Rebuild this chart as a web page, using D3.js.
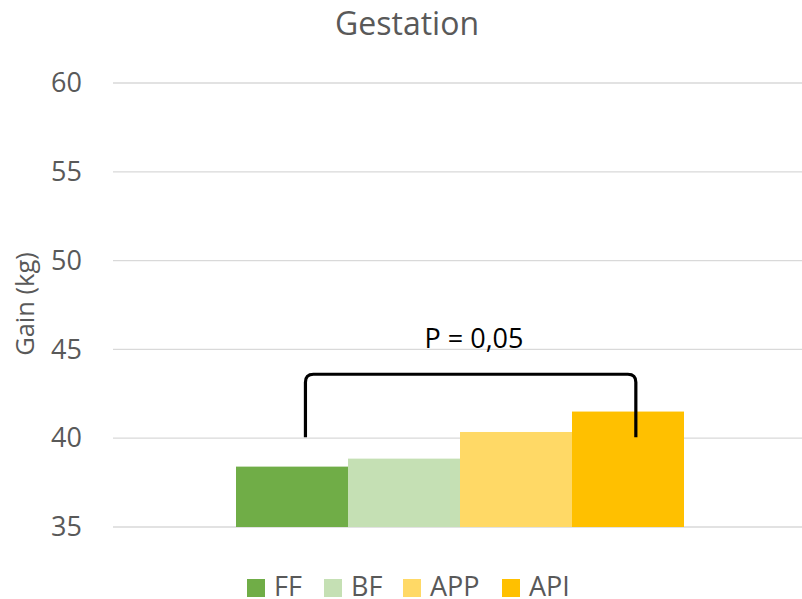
<!DOCTYPE html>
<html>
<head>
<meta charset="utf-8">
<script src="https://cdn.jsdelivr.net/npm/d3@7"></script>
<style>
  body { margin: 0; background: #fff; }
  svg text { font-family: "Open Sans", Lato, sans-serif; }
</style>
</head>
<body>
<svg id="chart" width="802" height="599"></svg>
<script>
// Chart data
const categories = ['FF', 'BF', 'APP', 'API'];
const values = [38.4, 38.85, 40.35, 41.5];
const colors = ['#70ad47', '#c5e0b4', '#ffd966', '#ffc000'];
const yTicks = [35, 40, 45, 50, 55, 60];
const title = 'Gestation';
const yLabel = 'Gain (kg)';
const pLabel = 'P = 0,05';

const svg = d3.select('#chart');
const margin = { top: 83, right: 0, bottom: 72, left: 113 };
const width = 802 - margin.left - margin.right;
const height = 599 - margin.top - margin.bottom;
const g = svg.append('g').attr('transform', `translate(${margin.left},${margin.top})`);

const y = d3.scaleLinear().domain([35, 60]).range([height, 0]);

// bars occupy the middle of the plot, with no gaps between them
const x = d3.scaleBand()
    .domain(categories)
    .range([123, 571])
    .padding(0);

// gridlines
g.append('g')
    .selectAll('line')
    .data(yTicks)
    .join('line')
    .attr('x1', 0)
    .attr('x2', width)
    .attr('y1', d => y(d))
    .attr('y2', d => y(d))
    .attr('stroke', '#d9d9d9')
    .attr('stroke-width', 1.3);

// y axis labels
const yAxis = g.append('g')
    .call(d3.axisLeft(y).tickValues(yTicks).tickSize(0).tickPadding(31));
yAxis.select('.domain').remove();
yAxis.selectAll('text')
    .attr('fill', '#595959')
    .style('font-size', '27px');

// bars
g.selectAll('.bar')
    .data(categories)
    .join('rect')
    .attr('class', 'bar')
    .attr('x', d => x(d))
    .attr('width', x.bandwidth())
    .attr('y', (d, i) => y(values[i]))
    .attr('height', (d, i) => y(35) - y(values[i]))
    .attr('fill', (d, i) => colors[i]);

// significance bracket
const bx1 = x('FF') + x.bandwidth() * 0.62;
const bx2 = x('API') + x.bandwidth() * 0.57;
const by1 = y(40.05);
const by2 = y(43.6);
const r = 8;
const bracket = d3.path();
bracket.moveTo(bx1, by1);
bracket.lineTo(bx1, by2 + r);
bracket.quadraticCurveTo(bx1, by2, bx1 + r, by2);
bracket.lineTo(bx2 - r, by2);
bracket.quadraticCurveTo(bx2, by2, bx2, by2 + r);
bracket.lineTo(bx2, by1);
g.append('path')
    .attr('d', bracket.toString())
    .attr('fill', 'none')
    .attr('stroke', '#000')
    .attr('stroke-width', 3.2);

g.append('text')
    .attr('x', 474 - margin.left)
    .attr('y', y(45.1))
    .attr('text-anchor', 'middle')
    .attr('fill', '#000')
    .style('font-size', '27px')
    .text(pLabel);

// title
svg.append('text')
    .attr('x', 407)
    .attr('y', 35)
    .attr('text-anchor', 'middle')
    .attr('fill', '#595959')
    .style('font-size', '32px')
    .text(title);

// y axis title
svg.append('text')
    .attr('transform', 'translate(34,304) rotate(-90)')
    .attr('text-anchor', 'middle')
    .attr('fill', '#595959')
    .style('font-size', '25.5px')
    .text(yLabel);

// legend
const legendX = [247, 324, 403, 502];
const legend = svg.append('g')
    .selectAll('g')
    .data(categories)
    .join('g')
    .attr('transform', (d, i) => `translate(${legendX[i]},579)`);
legend.append('rect')
    .attr('width', 18)
    .attr('height', 18)
    .attr('fill', (d, i) => colors[i]);
legend.append('text')
    .attr('x', 27)
    .attr('y', 17)
    .attr('fill', '#595959')
    .style('font-size', '27px')
    .text(d => d);
</script>
</body>
</html>
